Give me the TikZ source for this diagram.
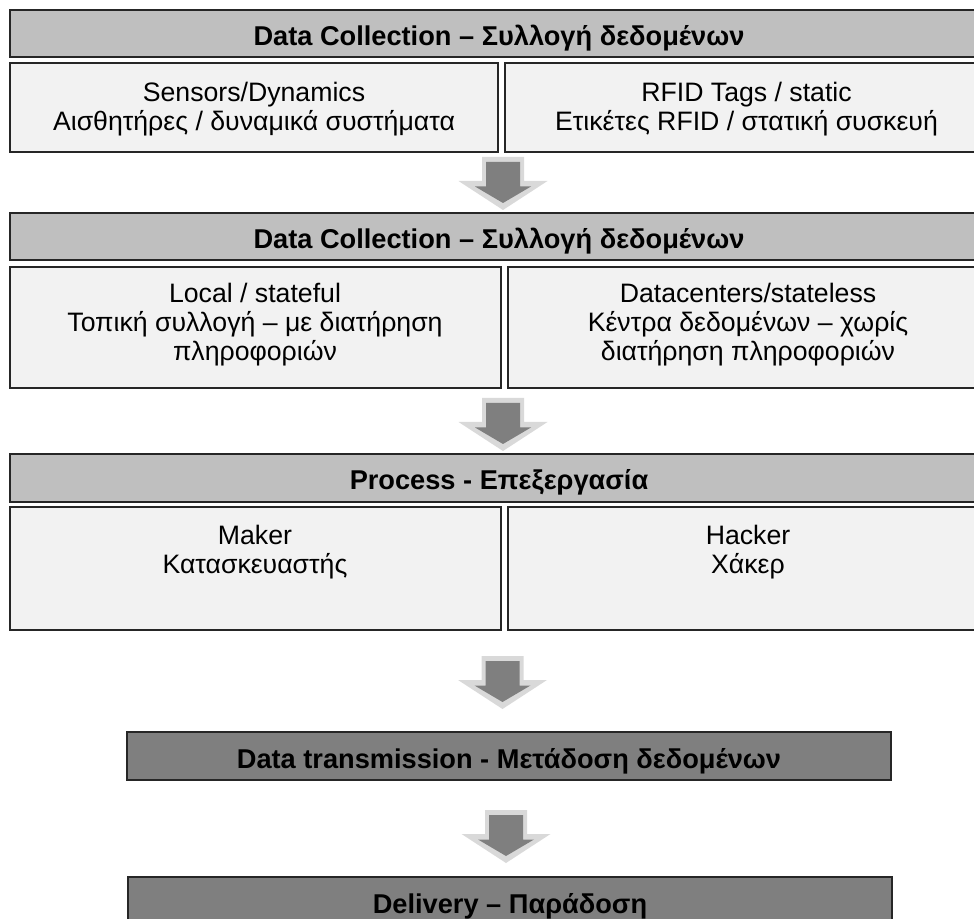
\documentclass[tikz,border=0pt]{standalone}
\usepackage{fontspec}
\setmainfont{Liberation Sans}
\usetikzlibrary{fit}
\definecolor{hdrfill}{HTML}{BFBFBF}
\definecolor{subfill}{HTML}{F2F2F2}
\definecolor{darkfill}{HTML}{7F7F7F}
\definecolor{arrlight}{HTML}{D9D9D9}
\definecolor{arrdark}{HTML}{7F7F7F}
\definecolor{edgecol}{HTML}{262626}
\begin{document}
\begin{tikzpicture}[x=0.75pt,y=-0.75pt,
  frame/.style={draw=edgecol, line width=1.1pt, inner sep=0pt, outer sep=0pt},
  hdr/.style={frame, fill=hdrfill},
  subbox/.style={frame, fill=subfill},
  darkbox/.style={frame, fill=darkfill},
  hdrtext/.style={anchor=base, inner sep=0pt, font=\fontsize{20.4}{22}\selectfont\bfseries},
  subtext/.style={anchor=north, inner sep=0pt, align=center, font=\fontsize{20}{21.9}\selectfont},
  blockarrow/.pic={
    \fill[arrlight] (-21,0) -- (21,0) -- (21,24) -- (44.5,24) -- (0,53) -- (-44.5,24) -- (-21,24) -- cycle;
    \fill[arrdark] (-17,5) -- (17,5) -- (17,29.5) -- (28,29.5) -- (0,46) -- (-28,29.5) -- (-17,29.5) -- cycle;
  }]
\useasboundingbox (0,0) rectangle (974,919);
\clip (0,0) rectangle (974,919);

% row 1
\node[hdr, fit={(10,10) (988,57)}] (h1) {};
\node[hdrtext] (h1t) at (499,46) {Data Collection – Συλλογή δεδομένων};
\node[subbox, fit={(10,63) (498,152)}] (s1a) {};
\node[subbox, fit={(505,63) (988,152)}] (s1b) {};
\node[subtext] (s1at) at (254,82) {Sensors/Dynamics\\Αισθητήρες / δυναμικά συστήματα};
\node[subtext] (s1bt) at (746.5,82) {RFID Tags / static\\Ετικέτες RFID / στατική συσκευή};
\pic (a1) at (503,157) {blockarrow};

% row 2
\node[hdr, fit={(10,213) (988,260)}] (h2) {};
\node[hdrtext] (h2t) at (499,249) {Data Collection – Συλλογή δεδομένων};
\node[subbox, fit={(10,267) (501,388)}] (s2a) {};
\node[subbox, fit={(508,267) (988,388)}] (s2b) {};
\node[subtext] (s2at) at (255,283) {Local / stateful\\Τοπική συλλογή – με διατήρηση\\πληροφοριών};
\node[subtext] (s2bt) at (748,283) {Datacenters/stateless\\Κέντρα δεδομένων – χωρίς\\διατήρηση πληροφοριών};
\pic (a2) at (503,398) {blockarrow};

% row 3
\node[hdr, fit={(10,454) (988,502)}] (h3) {};
\node[hdrtext] (h3t) at (499,489) {Process - Επεξεργασία};
\node[subbox, fit={(10,507) (501,630)}] (s3a) {};
\node[subbox, fit={(508,507) (988,630)}] (s3b) {};
\node[subtext] (s3at) at (255,525) {Maker\\Κατασκευαστής};
\node[subtext] (s3bt) at (748,525) {Hacker\\Χάκερ};
\pic (a3) at (502.5,656) {blockarrow};

% transmission
\node[darkbox, fit={(127,732) (891,780)}] (tr) {};
\node[hdrtext] (trt) at (509,768) {Data transmission - Μετάδοση δεδομένων};
\pic (a4) at (506,810) {blockarrow};

% delivery
\node[darkbox, fit={(128,877) (892,925)}] (dl) {};
\node[hdrtext] (dlt) at (510,913) {Delivery – Παράδοση};
\end{tikzpicture}
\end{document}
